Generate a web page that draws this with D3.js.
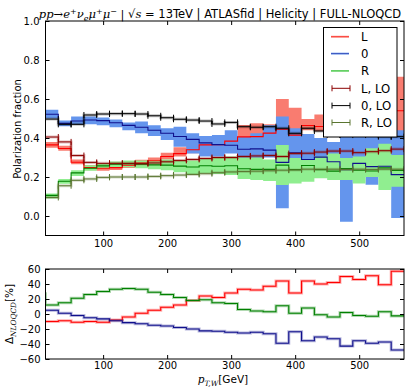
<!DOCTYPE html>
<html><head><meta charset="utf-8">
<script src="https://cdn.jsdelivr.net/npm/d3@7"></script>
<style>body{margin:0;background:#fff}</style>
</head><body>
<svg id="c" width="411" height="387"></svg>
<script>
// ---- data ----
const binEdges = [0, 10, 30, 50, 70, 90, 110, 130, 150, 170, 190, 210, 230, 250, 270, 290, 310, 330, 350, 370, 390, 410, 430, 450, 470, 490, 510, 530, 550, 570];
const xTickValues = [100, 200, 300, 400, 500];
const yTickValuesMain = [0.0, 0.2, 0.4, 0.6, 0.8, 1.0];
const yTickValuesRatio = [-60, -40, -20, 0, 20, 40, 60];

const nloL = [0.33, 0.365, 0.346, 0.276, 0.248, 0.245, 0.248, 0.26, 0.271, 0.283, 0.305, 0.32, 0.34, 0.365, 0.366, 0.384, 0.406, 0.407, 0.425, 0.445, 0.415, 0.464, 0.459, 0.473, 0.5, 0.475, 0.498, 0.466, 0.54];
const nloLLow = [0.32, 0.35, 0.335, 0.265, 0.235, 0.232, 0.236, 0.246, 0.258, 0.27, 0.29, 0.305, 0.322, 0.345, 0.348, 0.365, 0.39, 0.39, 0.405, 0.42, 0.395, 0.44, 0.435, 0.45, 0.47, 0.45, 0.47, 0.44, 0.41];
const nloLHigh = [0.35, 0.38, 0.36, 0.29, 0.262, 0.258, 0.262, 0.275, 0.288, 0.3, 0.325, 0.352, 0.372, 0.4, 0.398, 0.41, 0.467, 0.476, 0.47, 0.6, 0.555, 0.497, 0.52, 0.5, 0.56, 0.52, 0.56, 0.5, 0.714];

const nlo0 = [0.66, 0.522, 0.475, 0.487, 0.492, 0.489, 0.478, 0.465, 0.455, 0.44, 0.424, 0.408, 0.393, 0.375, 0.366, 0.363, 0.342, 0.344, 0.338, 0.275, 0.324, 0.29, 0.302, 0.278, 0.237, 0.27, 0.253, 0.255, 0.212];
const nlo0Low = [0.6, 0.5, 0.46, 0.47, 0.47, 0.465, 0.455, 0.44, 0.424, 0.41, 0.39, 0.355, 0.32, 0.305, 0.305, 0.32, 0.29, 0.29, 0.3, 0.04, 0.28, 0.25, 0.26, 0.24, -0.03, 0.2, 0.16, 0.2, -0.01];
const nlo0High = [0.67, 0.545, 0.49, 0.51, 0.51, 0.505, 0.495, 0.48, 0.484, 0.466, 0.45, 0.458, 0.424, 0.41, 0.415, 0.44, 0.407, 0.424, 0.466, 0.51, 0.45, 0.42, 0.4, 0.38, 0.42, 0.42, 0.42, 0.42, 0.44];

const nloR = [0.01, 0.106, 0.178, 0.221, 0.245, 0.257, 0.266, 0.268, 0.266, 0.262, 0.261, 0.256, 0.251, 0.258, 0.255, 0.258, 0.242, 0.239, 0.239, 0.261, 0.238, 0.259, 0.238, 0.23, 0.243, 0.235, 0.231, 0.247, 0.234];
const nloRLow = [0.0, 0.09, 0.165, 0.205, 0.232, 0.243, 0.25, 0.25, 0.245, 0.24, 0.235, 0.225, 0.215, 0.22, 0.215, 0.21, 0.19, 0.185, 0.18, 0.159, 0.167, 0.176, 0.193, 0.185, 0.185, 0.167, 0.2, 0.133, 0.15];
const nloRHigh = [0.02, 0.115, 0.19, 0.235, 0.26, 0.27, 0.28, 0.285, 0.285, 0.285, 0.29, 0.285, 0.285, 0.295, 0.3, 0.305, 0.3, 0.3, 0.29, 0.364, 0.297, 0.287, 0.305, 0.32, 0.297, 0.305, 0.347, 0.37, 0.313];

const loL = [null, 0.405, 0.38, 0.31, 0.275, 0.27, 0.27, 0.27, 0.268, 0.272, 0.278, 0.285, 0.29, 0.295, 0.3, 0.3, 0.305, 0.308, 0.31, 0.305, 0.32, 0.322, 0.328, 0.333, 0.333, 0.325, 0.33, 0.335, 0.343];
const lo0 = [null, 0.497, 0.47, 0.47, 0.518, 0.523, 0.525, 0.525, 0.523, 0.514, 0.504, 0.496, 0.492, 0.487, 0.472, 0.48, 0.458, 0.455, 0.458, 0.45, 0.424, 0.45, 0.436, 0.415, 0.415, 0.42, 0.415, 0.407, 0.407];
const loR = [null, 0.095, 0.155, 0.183, 0.19, 0.198, 0.2, 0.2, 0.2, 0.203, 0.207, 0.21, 0.213, 0.217, 0.222, 0.226, 0.228, 0.23, 0.232, 0.235, 0.236, 0.24, 0.24, 0.24, 0.238, 0.24, 0.238, 0.24, 0.24];

const deltaL = [-10, -10, -9, -11, -10, -11, -8, -4, 1, 5, 9, 12, 18, 24, 22, 28, 33, 32, 37, 44, 28, 44, 40, 42, 50, 46, 51, 39, 57];
const delta0 = [5, 5, 1, -2, -5, -6.5, -9, -11.5, -13, -15, -16, -18, -20, -22.5, -23, -24.4, -25.3, -24.4, -26.3, -39, -23.6, -35.6, -30.7, -33, -42.8, -35.6, -39, -37.3, -48];
const deltaR = [27, 12, 15, 21, 26, 30, 33, 34, 33, 29, 26, 22, 18, 19, 15, 14, 6, 4, 3, 11, 1, 8, -1, -4, 2, -2, -3, 3, -2.5];

const legendLabels = ["L", "0", "R", "L, LO", "0, LO", "R, LO"];

// ---- layout ----
const svg = d3.select("#c");
const L = 45.5, R = 404;
const mainTop = 21, mainBot = 235.5, ratTop = 269, ratBot = 359;
const x = d3.scaleLinear().domain([10, 570]).range([L, R]);
const yM = d3.scaleLinear().domain([-0.1, 1.0]).range([mainBot, mainTop]);
const yR = d3.scaleLinear().domain([-60, 60]).range([ratBot, ratTop]);

const defs = svg.append("defs");
defs.append("clipPath").attr("id", "cm").append("rect").attr("x", L).attr("y", mainTop).attr("width", R - L).attr("height", mainBot - mainTop);
defs.append("clipPath").attr("id", "cr").append("rect").attr("x", L).attr("y", ratTop).attr("width", R - L).attr("height", ratBot - ratTop);

function stepPts(vals) {
  const pts = [];
  vals.forEach((v, i) => { pts.push({x: binEdges[i], v}); pts.push({x: binEdges[i + 1], v}); });
  return pts;
}
function bandPts(lo, hi) {
  const pts = [];
  lo.forEach((v, i) => { pts.push({x: binEdges[i], lo: v, hi: hi[i]}); pts.push({x: binEdges[i + 1], lo: v, hi: hi[i]}); });
  return pts;
}
const lineM = d3.line().defined(d => d.v != null).x(d => x(d.x)).y(d => yM(d.v));
const lineR = d3.line().defined(d => d.v != null).x(d => x(d.x)).y(d => yR(d.v));
const areaM = d3.area().x(d => x(d.x)).y0(d => yM(d.lo)).y1(d => yM(d.hi));

const colors = {
  bandL: "#f97c70", band0: "#6495ed", bandR: "#90ee90",
  lineL: "#ff0000", line0: "#10108c", lineR: "#008000",
  loL: "#8b0000", lo0: "#000000", loR: "#5a7530"
};

// ---- main panel ----
const gm = svg.append("g").attr("clip-path", "url(#cm)");
gm.append("path").attr("d", areaM(bandPts(nloLLow, nloLHigh))).attr("fill", colors.bandL);
gm.append("path").attr("d", areaM(bandPts(nlo0Low, nlo0High))).attr("fill", colors.band0);
gm.append("path").attr("d", areaM(bandPts(nloRLow, nloRHigh))).attr("fill", colors.bandR);

[[nloL, colors.lineL], [nlo0, colors.line0], [nloR, colors.lineR]].forEach(([vals, c]) => {
  gm.append("path").attr("d", lineM(stepPts(vals))).attr("fill", "none").attr("stroke", c).attr("stroke-width", 1.1);
});

[[loL, colors.loL], [lo0, colors.lo0], [loR, colors.loR]].forEach(([vals, c]) => {
  gm.append("path").attr("d", lineM(stepPts(vals))).attr("fill", "none").attr("stroke", c).attr("stroke-width", 3).attr("stroke-opacity", 0.25);
  gm.append("path").attr("d", lineM(stepPts(vals))).attr("fill", "none").attr("stroke", c).attr("stroke-width", 1);
  const caps = [];
  vals.forEach((v, i) => { if (v != null) { caps.push({x: binEdges[i], v}); caps.push({x: binEdges[i + 1], v}); } });
  gm.selectAll(null).data(caps).enter().append("line")
    .attr("x1", d => x(d.x)).attr("x2", d => x(d.x))
    .attr("y1", d => yM(d.v) - 3).attr("y2", d => yM(d.v) + 3)
    .attr("stroke", c).attr("stroke-width", 1);
});

// ---- ratio panel ----
const gr = svg.append("g").attr("clip-path", "url(#cr)");
[[deltaL, colors.lineL], [delta0, colors.line0], [deltaR, colors.lineR]].forEach(([vals, c]) => {
  gr.append("path").attr("d", lineR(stepPts(vals))).attr("fill", "none").attr("stroke", c).attr("stroke-width", 3).attr("stroke-opacity", 0.3);
  gr.append("path").attr("d", lineR(stepPts(vals))).attr("fill", "none").attr("stroke", c).attr("stroke-width", 1.1);
});

// ---- axes ----
const font = "DejaVu Sans";
function styleAxis(g) {
  g.attr("font-family", font).attr("font-size", 10);
  g.select(".domain").remove();
  g.selectAll(".tick line").attr("stroke", "#000");
  g.selectAll(".tick text").attr("fill", "#000");
}
svg.append("g").attr("transform", `translate(0,${mainBot})`).call(d3.axisBottom(x).tickValues(xTickValues).tickSize(-4).tickPadding(4).tickFormat(d3.format("d"))).call(styleAxis);
svg.append("g").attr("transform", `translate(0,${mainTop})`).call(d3.axisTop(x).tickValues(xTickValues).tickSize(-4).tickFormat("")).call(styleAxis);
svg.append("g").attr("transform", `translate(${L},0)`).call(d3.axisLeft(yM).tickValues(yTickValuesMain).tickSize(-4).tickPadding(6).tickFormat(d3.format(".1f"))).call(styleAxis);
svg.append("g").attr("transform", `translate(${R},0)`).call(d3.axisRight(yM).tickValues(yTickValuesMain).tickSize(-4).tickFormat("")).call(styleAxis);

svg.append("g").attr("transform", `translate(0,${ratBot})`).call(d3.axisBottom(x).tickValues(xTickValues).tickSize(-4).tickPadding(2.5).tickFormat(d3.format("d"))).call(styleAxis);
svg.append("g").attr("transform", `translate(0,${ratTop})`).call(d3.axisTop(x).tickValues(xTickValues).tickSize(-4).tickFormat("")).call(styleAxis);
svg.append("g").attr("transform", `translate(${L},0)`).call(d3.axisLeft(yR).tickValues(yTickValuesRatio).tickSize(-4).tickPadding(5).tickFormat(d3.format("d"))).call(styleAxis);
svg.append("g").attr("transform", `translate(${R},0)`).call(d3.axisRight(yR).tickValues(yTickValuesRatio).tickSize(-4).tickFormat("")).call(styleAxis);

svg.append("rect").attr("x", L).attr("y", mainTop).attr("width", R - L).attr("height", mainBot - mainTop).attr("fill", "none").attr("stroke", "#000").attr("stroke-width", 1);
svg.append("rect").attr("x", L).attr("y", ratTop).attr("width", R - L).attr("height", ratBot - ratTop).attr("fill", "none").attr("stroke", "#000").attr("stroke-width", 1);

// ---- labels ----
function richText(parent, parts, base) {
  let cur = 0;
  parts.forEach(p => {
    const target = p.sup ? -4 : (p.sub ? 2.5 : 0);
    const ts = parent.append("tspan").text(p.t).attr("dy", target - cur);
    cur = target;
    if (p.it) ts.attr("font-style", "italic");
    if (p.serif || p.it) ts.attr("font-family", "DejaVu Serif");
    if (p.sup || p.sub) ts.attr("font-size", base * 0.7);
  });
}
const title = svg.append("text").attr("x", 220).attr("y", 18).attr("text-anchor", "middle")
  .attr("font-family", font).attr("font-size", 11.5).attr("fill", "#000");
richText(title, [
  {t: "pp", it: true}, {t: "→", serif: true}, {t: "e", it: true}, {t: "+", sup: true, serif: true},
  {t: "ν", it: true}, {t: "e", sub: true, it: true}, {t: "μ", it: true}, {t: "+", sup: true, serif: true},
  {t: "μ", it: true}, {t: "−", sup: true, serif: true}, {t: " | √", serif: true}, {t: "s", it: true},
  {t: " = ", serif: true}, {t: "13TeV | ATLASfid | Helicity | FULL-NLOQCD"}
], 11.5);

svg.append("text").attr("transform", "translate(21,129) rotate(-90)").attr("text-anchor", "middle")
  .attr("font-family", font).attr("font-size", 10).text("Polarization fraction");

const ry = svg.append("text").attr("transform", "translate(13,314) rotate(-90)").attr("text-anchor", "middle")
  .attr("font-family", font).attr("font-size", 10.5);
richText(ry, [{t: "Δ"}, {t: "NLOQCD", sub: true, it: true}, {t: "[%]"}], 10.5);

const xl = svg.append("text").attr("x", 223).attr("y", 383).attr("text-anchor", "middle")
  .attr("font-family", font).attr("font-size", 10.5);
richText(xl, [{t: "p", it: true}, {t: "T,W", sub: true, it: true}, {t: "[GeV]"}], 10.5);

// ---- legend ----
const lg = svg.append("g");
lg.append("rect").attr("x", 323.5).attr("y", 27.5).attr("width", 73.5).attr("height", 109.5).attr("fill", "#fff").attr("stroke", "#000").attr("stroke-width", 1);
const legY = [36.7, 53.6, 70.9, 88.3, 105.6, 122.5];
const legStyle = [
  {band: colors.bandL, c: colors.lineL}, {band: colors.band0, c: colors.line0}, {band: colors.bandR, c: colors.lineR},
  {lo: true, c: colors.loL}, {lo: true, c: colors.lo0}, {lo: true, c: colors.loR}
];
legendLabels.forEach((lab, i) => {
  const y = legY[i], s = legStyle[i];
  if (s.lo) {
    lg.append("line").attr("x1", 332).attr("x2", 350).attr("y1", y).attr("y2", y).attr("stroke", s.c).attr("stroke-width", 1);
    [332, 350].forEach(xx => lg.append("line").attr("x1", xx).attr("x2", xx).attr("y1", y - 3).attr("y2", y + 3).attr("stroke", s.c));
  } else {
    lg.append("line").attr("x1", 331).attr("x2", 349).attr("y1", y).attr("y2", y).attr("stroke", s.band).attr("stroke-width", 1.8);
    lg.append("line").attr("x1", 331).attr("x2", 349).attr("y1", y).attr("y2", y).attr("stroke", s.c).attr("stroke-width", 0.8).attr("stroke-opacity", 0.6);
  }
  lg.append("text").attr("x", 361).attr("y", y + 4.2).attr("font-family", font).attr("font-size", 11.7).text(lab);
});
</script>
</body></html>
